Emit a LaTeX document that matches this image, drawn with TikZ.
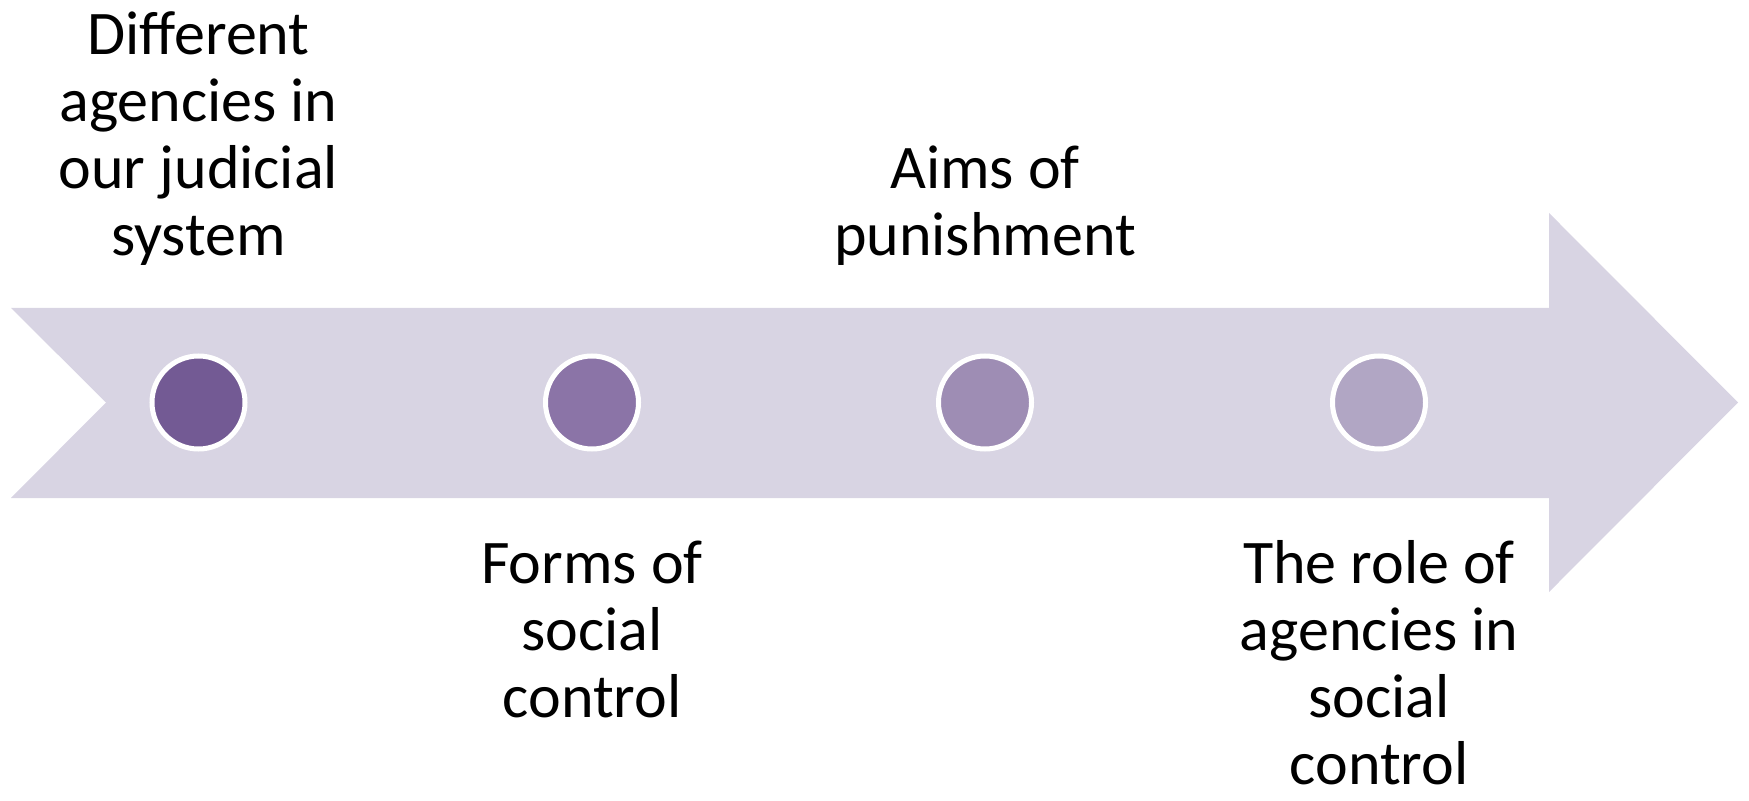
\documentclass[tikz,border=0pt]{standalone}
\usepackage{fontspec}
\setmainfont{Carlito}
\definecolor{arrowfill}{RGB}{216,212,227}
\definecolor{dotA}{RGB}{115,90,148}
\definecolor{dotB}{RGB}{139,116,167}
\definecolor{dotC}{RGB}{158,141,180}
\definecolor{dotD}{RGB}{177,166,196}
\begin{document}
\begin{tikzpicture}[x=0.5pt,y=-0.5pt,
  dot/.style={circle,draw=white,line width=2.5pt,minimum size=46.5pt,inner sep=0pt},
  lbl/.style={align=center,font=\fontsize{31}{33.5}\selectfont,inner sep=0pt,anchor=base}]
\useasboundingbox (0,0) rectangle (1749,801);
\fill[arrowfill] (11,308) -- (1549,308) -- (1549,213) -- (1738,402.5) -- (1549,592) -- (1549,498) -- (11,498) -- (106,402.5) -- cycle;
\node[dot,fill=dotA] (c1) at (198.5,402.5) {};
\node[dot,fill=dotB] (c2) at (592,402.5) {};
\node[dot,fill=dotC] (c3) at (985,402.5) {};
\node[dot,fill=dotD] (c4) at (1379,402.5) {};
\node[lbl] (t1) at (198.5,256) {Different\\agencies in\\our judicial\\system};
\node[lbl] (t2) at (592,717) {Forms of\\social\\control};
\node[lbl] (t3) at (985,256) {Aims of\\punishment};
\node[lbl] (t4) at (1379,784) {The role of\\agencies in\\social\\control};
\end{tikzpicture}
\end{document}
